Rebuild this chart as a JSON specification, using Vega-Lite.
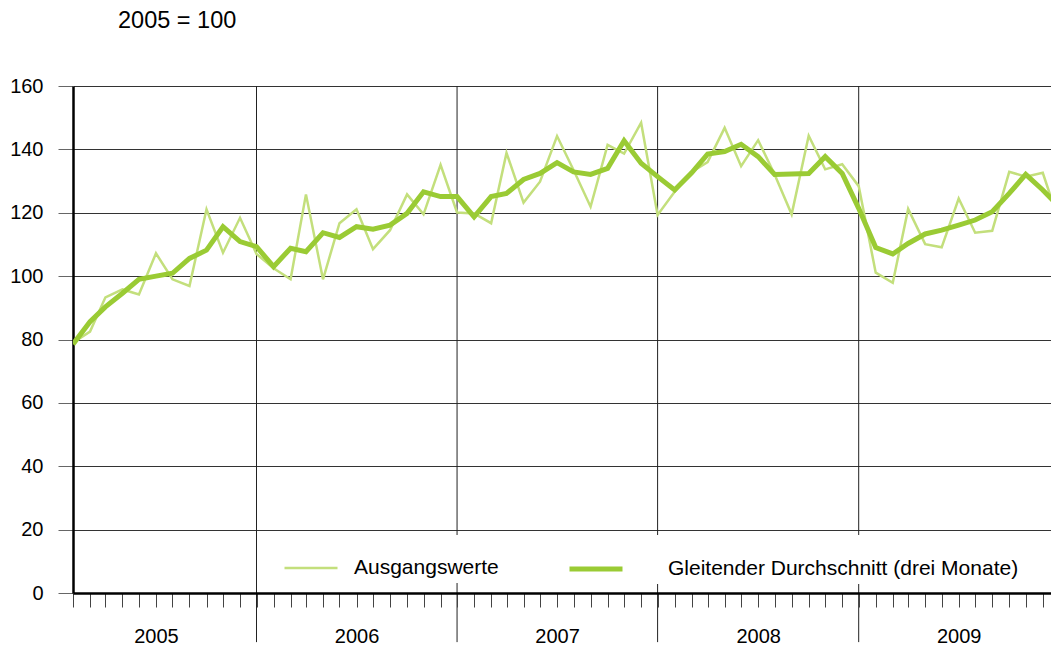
{
  "$schema": "https://vega.github.io/schema/vega-lite/v6.json",
  "width": 978,
  "height": 507,
  "autosize": {"type": "none"},
  "padding": {"left": 73, "top": 86, "right": 0, "bottom": 55},
  "background": "white",
  "config": {"font": "Liberation Sans", "view": {"stroke": null}},
  "title": {"text": "2005 = 100", "anchor": "start", "frame": "group", "fontSize": 23.5, "fontWeight": "normal", "color": "black", "dx": 45, "offset": 44},
  "data": {"values": [
    {"monat": "2005-01-01", "reihe": "Ausgangswerte", "wert": 79.0},
    {"monat": "2005-02-01", "reihe": "Ausgangswerte", "wert": 82.5},
    {"monat": "2005-03-01", "reihe": "Ausgangswerte", "wert": 93.3},
    {"monat": "2005-04-01", "reihe": "Ausgangswerte", "wert": 95.8},
    {"monat": "2005-05-01", "reihe": "Ausgangswerte", "wert": 94.2},
    {"monat": "2005-06-01", "reihe": "Ausgangswerte", "wert": 107.2},
    {"monat": "2005-07-01", "reihe": "Ausgangswerte", "wert": 99.0},
    {"monat": "2005-08-01", "reihe": "Ausgangswerte", "wert": 96.9},
    {"monat": "2005-09-01", "reihe": "Ausgangswerte", "wert": 121.1},
    {"monat": "2005-10-01", "reihe": "Ausgangswerte", "wert": 107.4},
    {"monat": "2005-11-01", "reihe": "Ausgangswerte", "wert": 118.4},
    {"monat": "2005-12-01", "reihe": "Ausgangswerte", "wert": 107.0},
    {"monat": "2006-01-01", "reihe": "Ausgangswerte", "wert": 102.5},
    {"monat": "2006-02-01", "reihe": "Ausgangswerte", "wert": 99.0},
    {"monat": "2006-03-01", "reihe": "Ausgangswerte", "wert": 125.8},
    {"monat": "2006-04-01", "reihe": "Ausgangswerte", "wert": 99.0},
    {"monat": "2006-05-01", "reihe": "Ausgangswerte", "wert": 116.7},
    {"monat": "2006-06-01", "reihe": "Ausgangswerte", "wert": 121.1},
    {"monat": "2006-07-01", "reihe": "Ausgangswerte", "wert": 108.5},
    {"monat": "2006-08-01", "reihe": "Ausgangswerte", "wert": 114.5},
    {"monat": "2006-09-01", "reihe": "Ausgangswerte", "wert": 125.8},
    {"monat": "2006-10-01", "reihe": "Ausgangswerte", "wert": 119.5},
    {"monat": "2006-11-01", "reihe": "Ausgangswerte", "wert": 135.1},
    {"monat": "2006-12-01", "reihe": "Ausgangswerte", "wert": 120.1},
    {"monat": "2007-01-01", "reihe": "Ausgangswerte", "wert": 119.8},
    {"monat": "2007-02-01", "reihe": "Ausgangswerte", "wert": 116.7},
    {"monat": "2007-03-01", "reihe": "Ausgangswerte", "wert": 138.9},
    {"monat": "2007-04-01", "reihe": "Ausgangswerte", "wert": 123.2},
    {"monat": "2007-05-01", "reihe": "Ausgangswerte", "wert": 129.8},
    {"monat": "2007-06-01", "reihe": "Ausgangswerte", "wert": 144.2},
    {"monat": "2007-07-01", "reihe": "Ausgangswerte", "wert": 133.5},
    {"monat": "2007-08-01", "reihe": "Ausgangswerte", "wert": 121.9},
    {"monat": "2007-09-01", "reihe": "Ausgangswerte", "wert": 141.4},
    {"monat": "2007-10-01", "reihe": "Ausgangswerte", "wert": 138.7},
    {"monat": "2007-11-01", "reihe": "Ausgangswerte", "wert": 148.4},
    {"monat": "2007-12-01", "reihe": "Ausgangswerte", "wert": 119.3},
    {"monat": "2008-01-01", "reihe": "Ausgangswerte", "wert": 126.6},
    {"monat": "2008-02-01", "reihe": "Ausgangswerte", "wert": 132.9},
    {"monat": "2008-03-01", "reihe": "Ausgangswerte", "wert": 136.0},
    {"monat": "2008-04-01", "reihe": "Ausgangswerte", "wert": 146.8},
    {"monat": "2008-05-01", "reihe": "Ausgangswerte", "wert": 134.7},
    {"monat": "2008-06-01", "reihe": "Ausgangswerte", "wert": 142.9},
    {"monat": "2008-07-01", "reihe": "Ausgangswerte", "wert": 132.1},
    {"monat": "2008-08-01", "reihe": "Ausgangswerte", "wert": 119.5},
    {"monat": "2008-09-01", "reihe": "Ausgangswerte", "wert": 144.3},
    {"monat": "2008-10-01", "reihe": "Ausgangswerte", "wert": 133.7},
    {"monat": "2008-11-01", "reihe": "Ausgangswerte", "wert": 135.3},
    {"monat": "2008-12-01", "reihe": "Ausgangswerte", "wert": 128.4},
    {"monat": "2009-01-01", "reihe": "Ausgangswerte", "wert": 101.1},
    {"monat": "2009-02-01", "reihe": "Ausgangswerte", "wert": 97.9},
    {"monat": "2009-03-01", "reihe": "Ausgangswerte", "wert": 121.2},
    {"monat": "2009-04-01", "reihe": "Ausgangswerte", "wert": 110.1},
    {"monat": "2009-05-01", "reihe": "Ausgangswerte", "wert": 109.1},
    {"monat": "2009-06-01", "reihe": "Ausgangswerte", "wert": 124.5},
    {"monat": "2009-07-01", "reihe": "Ausgangswerte", "wert": 113.7},
    {"monat": "2009-08-01", "reihe": "Ausgangswerte", "wert": 114.3},
    {"monat": "2009-09-01", "reihe": "Ausgangswerte", "wert": 132.9},
    {"monat": "2009-10-01", "reihe": "Ausgangswerte", "wert": 131.4},
    {"monat": "2009-11-01", "reihe": "Ausgangswerte", "wert": 132.6},
    {"monat": "2009-12-01", "reihe": "Ausgangswerte", "wert": 117.0},
    {"monat": "2005-01-01", "reihe": "Gleitender Durchschnitt (drei Monate)", "wert": 78.5},
    {"monat": "2005-02-01", "reihe": "Gleitender Durchschnitt (drei Monate)", "wert": 85.6},
    {"monat": "2005-03-01", "reihe": "Gleitender Durchschnitt (drei Monate)", "wert": 90.3},
    {"monat": "2005-04-01", "reihe": "Gleitender Durchschnitt (drei Monate)", "wert": 94.6},
    {"monat": "2005-05-01", "reihe": "Gleitender Durchschnitt (drei Monate)", "wert": 99.0},
    {"monat": "2005-06-01", "reihe": "Gleitender Durchschnitt (drei Monate)", "wert": 100.0},
    {"monat": "2005-07-01", "reihe": "Gleitender Durchschnitt (drei Monate)", "wert": 100.9},
    {"monat": "2005-08-01", "reihe": "Gleitender Durchschnitt (drei Monate)", "wert": 105.6},
    {"monat": "2005-09-01", "reihe": "Gleitender Durchschnitt (drei Monate)", "wert": 108.2},
    {"monat": "2005-10-01", "reihe": "Gleitender Durchschnitt (drei Monate)", "wert": 115.6},
    {"monat": "2005-11-01", "reihe": "Gleitender Durchschnitt (drei Monate)", "wert": 110.9},
    {"monat": "2005-12-01", "reihe": "Gleitender Durchschnitt (drei Monate)", "wert": 109.3},
    {"monat": "2006-01-01", "reihe": "Gleitender Durchschnitt (drei Monate)", "wert": 103.0},
    {"monat": "2006-02-01", "reihe": "Gleitender Durchschnitt (drei Monate)", "wert": 108.8},
    {"monat": "2006-03-01", "reihe": "Gleitender Durchschnitt (drei Monate)", "wert": 107.7},
    {"monat": "2006-04-01", "reihe": "Gleitender Durchschnitt (drei Monate)", "wert": 113.7},
    {"monat": "2006-05-01", "reihe": "Gleitender Durchschnitt (drei Monate)", "wert": 112.2},
    {"monat": "2006-06-01", "reihe": "Gleitender Durchschnitt (drei Monate)", "wert": 115.6},
    {"monat": "2006-07-01", "reihe": "Gleitender Durchschnitt (drei Monate)", "wert": 114.8},
    {"monat": "2006-08-01", "reihe": "Gleitender Durchschnitt (drei Monate)", "wert": 116.1},
    {"monat": "2006-09-01", "reihe": "Gleitender Durchschnitt (drei Monate)", "wert": 119.8},
    {"monat": "2006-10-01", "reihe": "Gleitender Durchschnitt (drei Monate)", "wert": 126.6},
    {"monat": "2006-11-01", "reihe": "Gleitender Durchschnitt (drei Monate)", "wert": 125.1},
    {"monat": "2006-12-01", "reihe": "Gleitender Durchschnitt (drei Monate)", "wert": 125.1},
    {"monat": "2007-01-01", "reihe": "Gleitender Durchschnitt (drei Monate)", "wert": 118.7},
    {"monat": "2007-02-01", "reihe": "Gleitender Durchschnitt (drei Monate)", "wert": 125.1},
    {"monat": "2007-03-01", "reihe": "Gleitender Durchschnitt (drei Monate)", "wert": 126.1},
    {"monat": "2007-04-01", "reihe": "Gleitender Durchschnitt (drei Monate)", "wert": 130.5},
    {"monat": "2007-05-01", "reihe": "Gleitender Durchschnitt (drei Monate)", "wert": 132.4},
    {"monat": "2007-06-01", "reihe": "Gleitender Durchschnitt (drei Monate)", "wert": 135.8},
    {"monat": "2007-07-01", "reihe": "Gleitender Durchschnitt (drei Monate)", "wert": 132.9},
    {"monat": "2007-08-01", "reihe": "Gleitender Durchschnitt (drei Monate)", "wert": 132.1},
    {"monat": "2007-09-01", "reihe": "Gleitender Durchschnitt (drei Monate)", "wert": 134.0},
    {"monat": "2007-10-01", "reihe": "Gleitender Durchschnitt (drei Monate)", "wert": 142.7},
    {"monat": "2007-11-01", "reihe": "Gleitender Durchschnitt (drei Monate)", "wert": 135.6},
    {"monat": "2007-12-01", "reihe": "Gleitender Durchschnitt (drei Monate)", "wert": 131.4},
    {"monat": "2008-01-01", "reihe": "Gleitender Durchschnitt (drei Monate)", "wert": 127.2},
    {"monat": "2008-02-01", "reihe": "Gleitender Durchschnitt (drei Monate)", "wert": 132.6},
    {"monat": "2008-03-01", "reihe": "Gleitender Durchschnitt (drei Monate)", "wert": 138.5},
    {"monat": "2008-04-01", "reihe": "Gleitender Durchschnitt (drei Monate)", "wert": 139.3},
    {"monat": "2008-05-01", "reihe": "Gleitender Durchschnitt (drei Monate)", "wert": 141.6},
    {"monat": "2008-06-01", "reihe": "Gleitender Durchschnitt (drei Monate)", "wert": 137.7},
    {"monat": "2008-07-01", "reihe": "Gleitender Durchschnitt (drei Monate)", "wert": 132.1},
    {"monat": "2008-08-01", "reihe": "Gleitender Durchschnitt (drei Monate)", "wert": 132.2},
    {"monat": "2008-09-01", "reihe": "Gleitender Durchschnitt (drei Monate)", "wert": 132.4},
    {"monat": "2008-10-01", "reihe": "Gleitender Durchschnitt (drei Monate)", "wert": 137.7},
    {"monat": "2008-11-01", "reihe": "Gleitender Durchschnitt (drei Monate)", "wert": 132.4},
    {"monat": "2008-12-01", "reihe": "Gleitender Durchschnitt (drei Monate)", "wert": 121.4},
    {"monat": "2009-01-01", "reihe": "Gleitender Durchschnitt (drei Monate)", "wert": 109.0},
    {"monat": "2009-02-01", "reihe": "Gleitender Durchschnitt (drei Monate)", "wert": 107.0},
    {"monat": "2009-03-01", "reihe": "Gleitender Durchschnitt (drei Monate)", "wert": 110.3},
    {"monat": "2009-04-01", "reihe": "Gleitender Durchschnitt (drei Monate)", "wert": 113.3},
    {"monat": "2009-05-01", "reihe": "Gleitender Durchschnitt (drei Monate)", "wert": 114.5},
    {"monat": "2009-06-01", "reihe": "Gleitender Durchschnitt (drei Monate)", "wert": 116.1},
    {"monat": "2009-07-01", "reihe": "Gleitender Durchschnitt (drei Monate)", "wert": 117.7},
    {"monat": "2009-08-01", "reihe": "Gleitender Durchschnitt (drei Monate)", "wert": 120.3},
    {"monat": "2009-09-01", "reihe": "Gleitender Durchschnitt (drei Monate)", "wert": 126.1},
    {"monat": "2009-10-01", "reihe": "Gleitender Durchschnitt (drei Monate)", "wert": 132.1},
    {"monat": "2009-11-01", "reihe": "Gleitender Durchschnitt (drei Monate)", "wert": 127.2},
    {"monat": "2009-12-01", "reihe": "Gleitender Durchschnitt (drei Monate)", "wert": 121.9}
  ]},
  "encoding": {
    "x": {
      "field": "monat",
      "type": "temporal",
      "scale": {"type": "utc", "domain": [{"year": 2005, "month": 1, "date": 1, "utc": true}, {"year": 2009, "month": 11, "date": 16, "utc": true}]},
      "axis": {
        "title": null,
        "tickCount": {"interval": "month", "step": 1},
        "tickSize": 14,
        "tickColor": "#444",
        "tickWidth": 1,
        "domainColor": "black",
        "domainWidth": 2.5,
        "labelExpr": "utcmonth(datum.value) == 5 ? utcFormat(datum.value, '%Y') : ''",
        "labelFontSize": 20,
        "labelColor": "black",
        "labelPadding": 19,
        "labelOverlap": false,
        "labelFlush": false,
        "labelBound": false,
        "grid": false,
        "zindex": 1
      }
    },
    "y": {
      "field": "wert",
      "type": "quantitative",
      "scale": {"domain": [0, 160], "nice": false},
      "axis": {
        "title": null,
        "values": [0, 20, 40, 60, 80, 100, 120, 140, 160],
        "tickSize": 15,
        "tickColor": "#666",
        "domainColor": "black",
        "domainWidth": 2.5,
        "labelFontSize": 20,
        "labelColor": "black",
        "labelPadding": 15,
        "grid": true,
        "gridColor": "#333",
        "gridWidth": 1,
        "gridOpacity": 1
      }
    }
  },
  "layer": [
    {
      "data": {"values": [
        {"monat": "2005-12-01", "wert": 160},
        {"monat": "2006-12-01", "wert": 160},
        {"monat": "2007-12-01", "wert": 160},
        {"monat": "2008-12-01", "wert": 160}
      ]},
      "mark": {"type": "rule", "color": "#222", "strokeWidth": 1},
      "encoding": {
        "y2": {"datum": -15.5}
      }
    },
    {
      "transform": [{"filter": "datum.reihe == 'Ausgangswerte'"}],
      "mark": {"type": "line", "clip": true},
      "encoding": {
        "color": {
          "field": "reihe", "type": "ordinal",
          "scale": {"domain": ["Ausgangswerte", "Gleitender Durchschnitt (drei Monate)"], "range": ["#c3df7c", "#9acb34"]},
          "legend": {"orient": "none", "legendX": 205, "legendY": 449, "direction": "horizontal", "title": null, "values": ["Ausgangswerte"], "fillColor": "white", "padding": 5, "symbolType": "stroke", "symbolSize": 2809, "symbolStrokeWidth": 2.5, "labelFontSize": 21, "labelColor": "black", "labelLimit": 500, "labelOffset": 15}
        },
        "strokeWidth": {
          "field": "reihe", "type": "ordinal",
          "scale": {"domain": ["Gleitender Durchschnitt (drei Monate)", "Ausgangswerte"], "range": [5, 2.5]},
          "legend": {"orient": "none", "legendX": 489, "legendY": 449, "direction": "horizontal", "title": null, "values": ["Gleitender Durchschnitt (drei Monate)"], "fillColor": "white", "padding": 5, "symbolType": "stroke", "symbolSize": 2809, "symbolStrokeColor": "#9acb34", "labelFontSize": 21, "labelColor": "black", "labelLimit": 500, "labelOffset": 43}
        }
      }
    },
    {
      "transform": [{"filter": "datum.reihe == 'Gleitender Durchschnitt (drei Monate)'"}],
      "mark": {"type": "line", "clip": true},
      "encoding": {
        "color": {"field": "reihe", "type": "ordinal"},
        "strokeWidth": {"field": "reihe", "type": "ordinal"}
      }
    }
  ]
}
